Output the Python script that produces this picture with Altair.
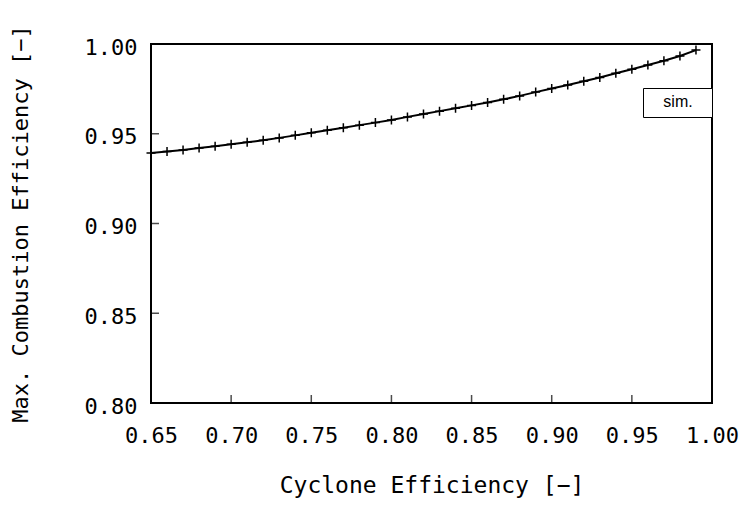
import altair as alt
import pandas as pd

# ---- data ----
cyclone_eff = [0.65, 0.66, 0.67, 0.68, 0.69, 0.70, 0.71, 0.72, 0.73, 0.74,
               0.75, 0.76, 0.77, 0.78, 0.79, 0.80, 0.81, 0.82, 0.83, 0.84,
               0.85, 0.86, 0.87, 0.88, 0.89, 0.90, 0.91, 0.92, 0.93, 0.94,
               0.95, 0.96, 0.97, 0.98, 0.99]
comb_eff = [0.9393, 0.9401, 0.9410, 0.9420, 0.9430, 0.9441, 0.9452, 0.9464, 0.9477, 0.9491,
            0.9505, 0.9519, 0.9533, 0.9548, 0.9562, 0.9577, 0.9594, 0.9610, 0.9626, 0.9642,
            0.9658, 0.9674, 0.9692, 0.9711, 0.9732, 0.9752, 0.9772, 0.9793, 0.9813, 0.9837,
            0.9859, 0.9883, 0.9907, 0.9933, 0.9966]
series_name = "sim."
x_ticks = [0.65, 0.70, 0.75, 0.80, 0.85, 0.90, 0.95, 1.00]
y_ticks = [0.80, 0.85, 0.90, 0.95, 1.00]
x_title = "Cyclone Efficiency [−]"
y_title = "Max. Combustion Efficiency [−]"

df = pd.DataFrame({"x": cyclone_eff, "y": comb_eff, "series": series_name})
df_xt = pd.DataFrame({"x": x_ticks})
df_yt = pd.DataFrame({"y": y_ticks})

MONO = "DejaVu Sans Mono"
xscale = alt.Scale(domain=[x_ticks[0], x_ticks[-1]], nice=False, zero=False)
yscale = alt.Scale(domain=[y_ticks[0], y_ticks[-1]], nice=False, zero=False)

xaxis = alt.Axis(values=x_ticks, format=".2f", title=x_title, ticks=False, domain=False,
                 grid=False, labelFlush=False, labelOverlap=False, labelPadding=22,
                 labelFont=MONO, labelFontSize=22, labelColor="black",
                 titleFont=MONO, titleFontSize=23, titleFontWeight="normal",
                 titleColor="black", titleY=82, titleBaseline="middle")
yaxis = alt.Axis(values=y_ticks, format=".2f", title=y_title, ticks=False, domain=False,
                 grid=False, labelFlush=False, labelOverlap=False, labelPadding=14,
                 labelOffset=3,
                 labelFont=MONO, labelFontSize=22, labelColor="black",
                 titleFont=MONO, titleFontSize=22, titleFontWeight="normal",
                 titleColor="black", titleX=-131, titleBaseline="middle")

X = alt.X("x:Q", scale=xscale, axis=xaxis)
Y = alt.Y("y:Q", scale=yscale, axis=yaxis)

# boxed legend: the series name is shown centred in a framed box
legend = alt.Legend(title=series_name, orient="none", legendX=492, legendY=44,
                    strokeColor="black", fillColor="white", padding=6,
                    titleOrient="top", titleAnchor="middle", titlePadding=0,
                    titleFont="Liberation Sans", titleFontSize=16,
                    titleFontWeight="normal", titleColor="black",
                    symbolType="circle", symbolSize=1, symbolOpacity=0,
                    symbolStrokeWidth=0, clipHeight=1,
                    labelExpr="''", labelOffset=56, labelFontSize=1)

line = alt.Chart(df).mark_line(strokeWidth=2).encode(
    x=X, y=Y,
    color=alt.Color("series:N", scale=alt.Scale(range=["black"]), legend=legend))

points = alt.Chart(df).mark_point(shape="M-1,0H1M0,-1V1", filled=False, size=81,
                                  strokeWidth=1.5, color="black", opacity=1).encode(x=X, y=Y)

xt = alt.Chart(df_xt).mark_tick(orient="vertical", size=8, thickness=1.5, yOffset=-4,
                                color="black").encode(
    x=X, y=alt.Y(datum=y_ticks[0], scale=yscale, axis=yaxis))

yt = alt.Chart(df_yt).mark_tick(orient="horizontal", size=8, thickness=1.5, xOffset=4,
                                color="black").encode(
    y=Y, x=alt.X(datum=x_ticks[0], scale=xscale, axis=xaxis))

chart = alt.layer(line, points, xt, yt).properties(
    width=561, height=359,
    autosize=alt.AutoSizeParams(type="none"),
    padding={"left": 151, "top": 44, "right": 30, "bottom": 109},
    background="white",
).configure_view(stroke="black", strokeWidth=2)

chart.save("out.html", embed_options={"renderer": "svg", "actions": False})
